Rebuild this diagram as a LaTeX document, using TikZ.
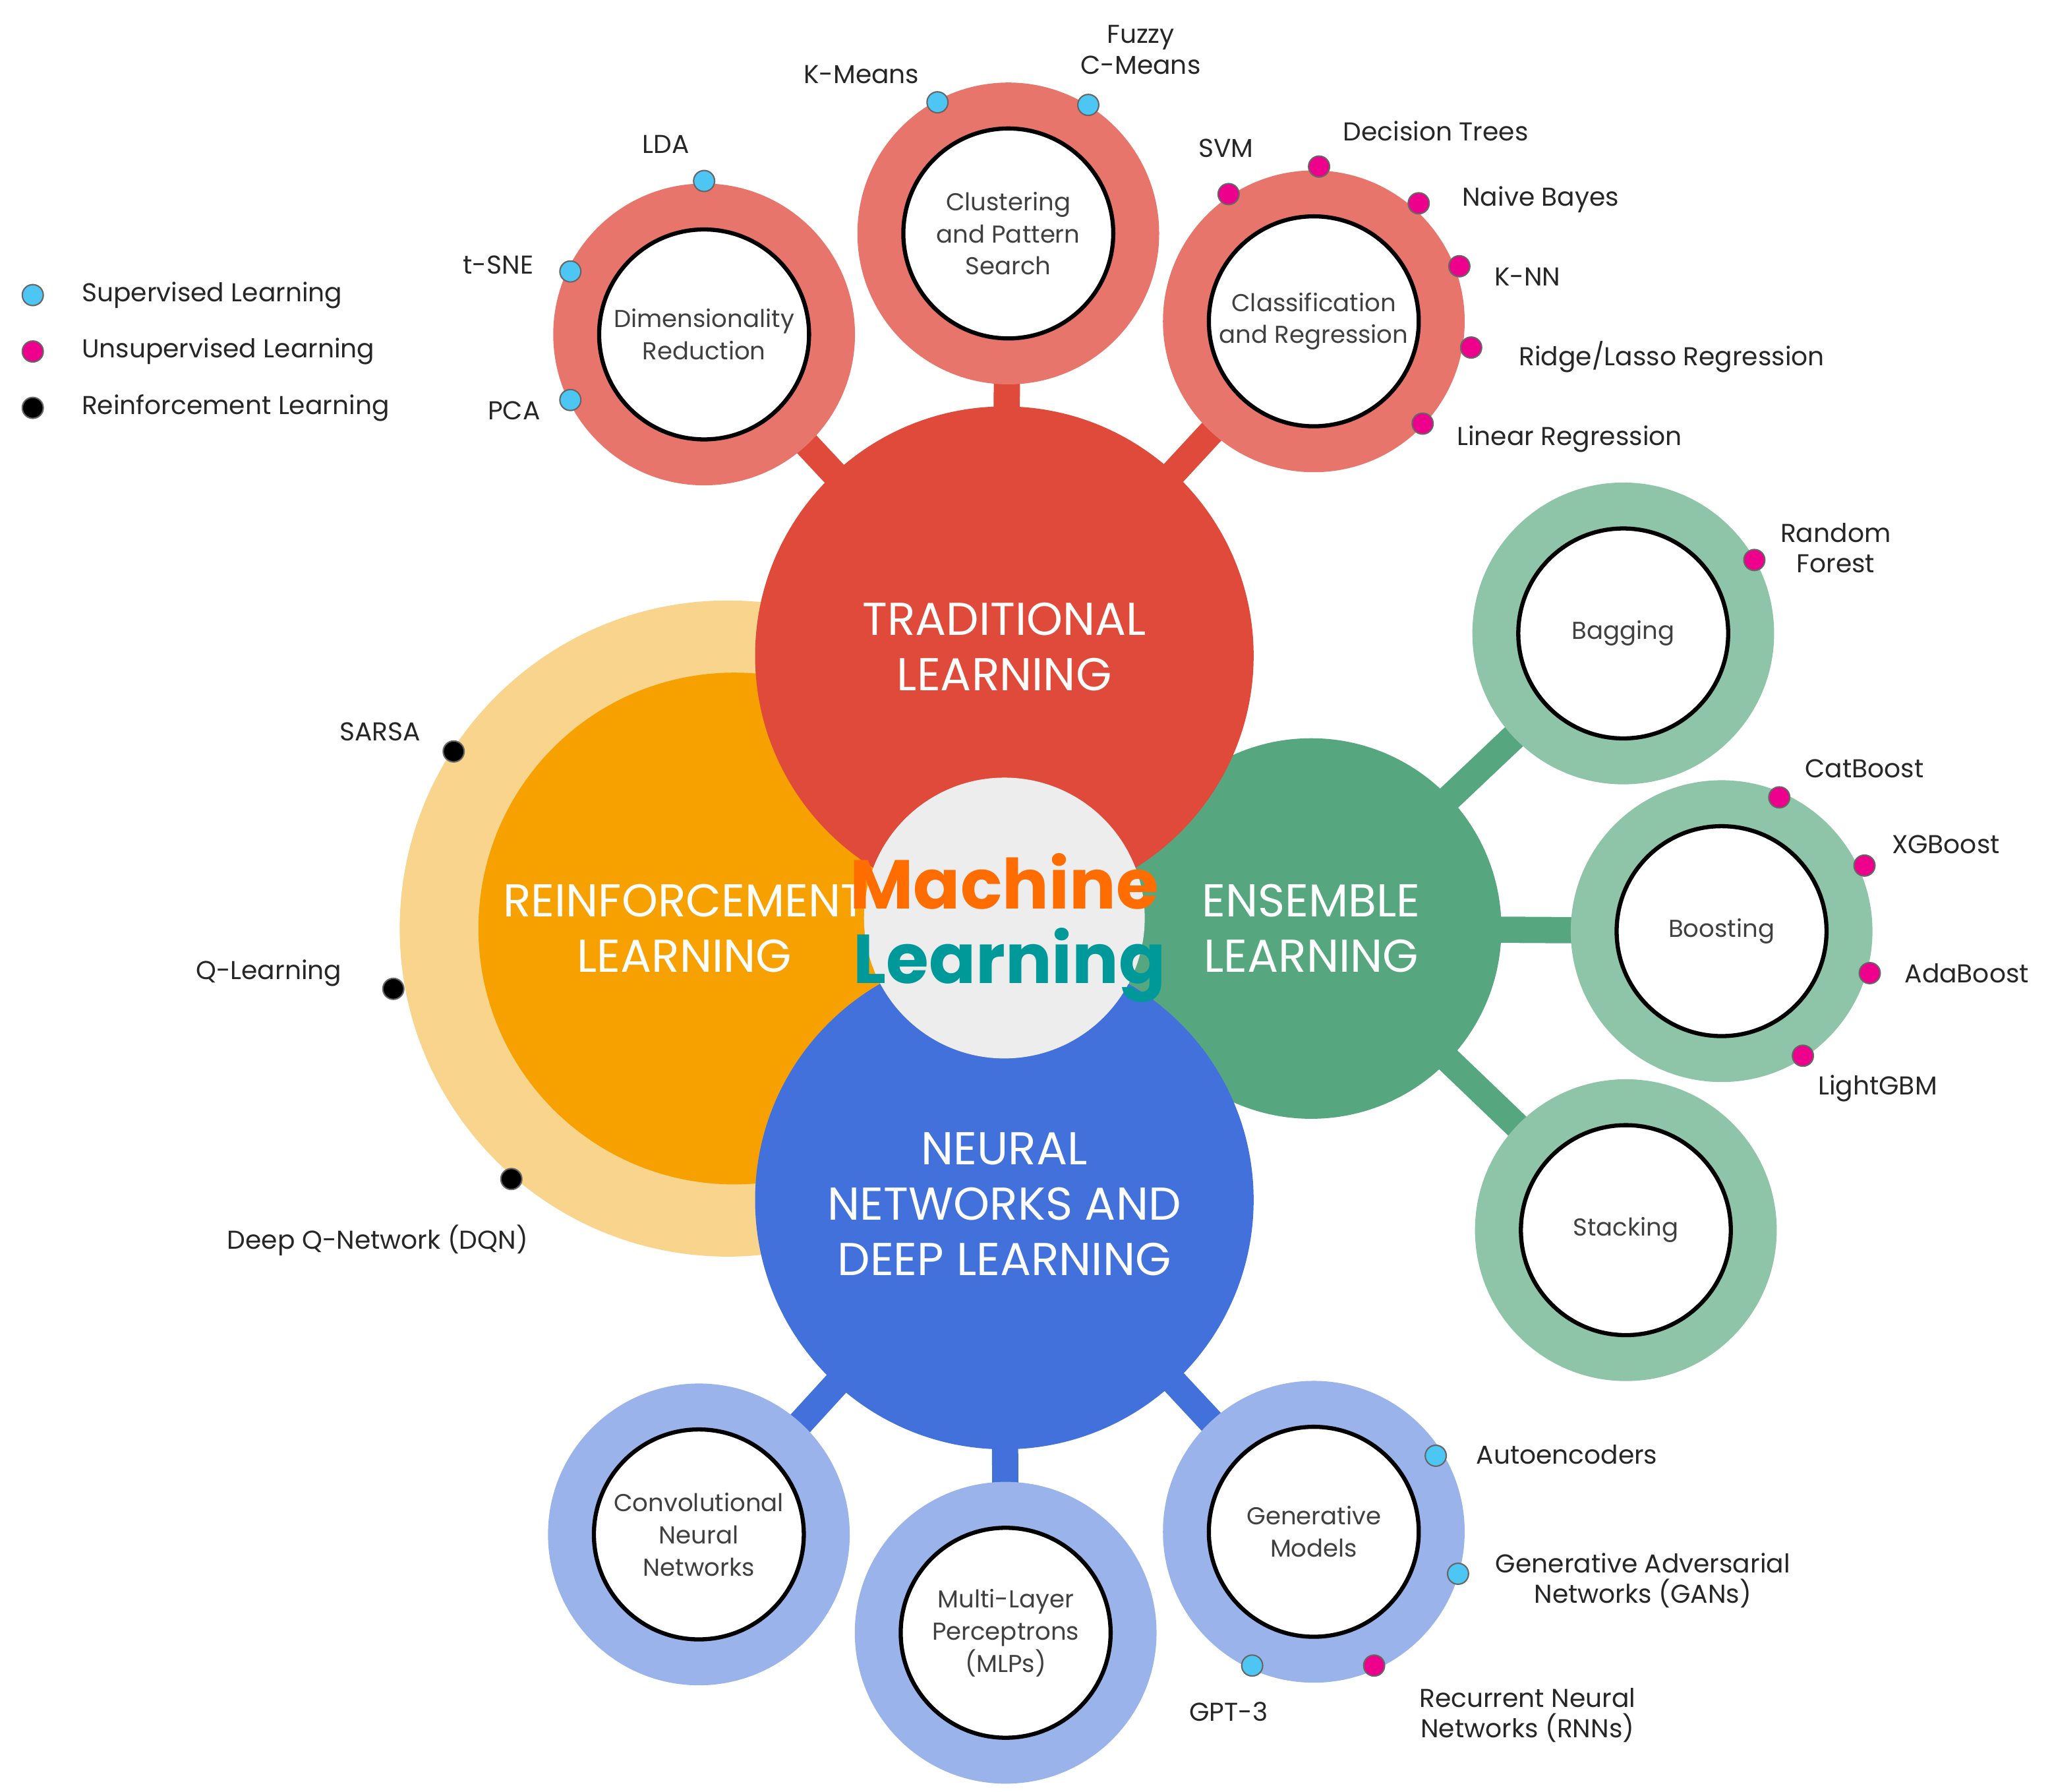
\documentclass[tikz,border=0pt]{standalone}
\usepackage{fontspec}
\setmainfont{Poppins}
\begin{document}
\begin{tikzpicture}[x=0.01cm,y=-0.01cm,
  main/.style={circle,inner sep=0,minimum size=380\pgflinewidth*0+10.8cm*0+3.8cm,text=white,font=\fontsize{10}{12}\selectfont,align=center},
  ring/.style={circle,inner sep=0,minimum size=2.3cm},
  inner/.style={circle,inner sep=0,minimum size=1.6cm,fill=white,draw=black,line width=0.9pt,align=center,font=\fontsize{5.3}{7}\selectfont,text=black!75},
  con/.style={line width=0.2cm},
  dot/.style={circle,inner sep=0,minimum size=0.16cm,draw=black!60,line width=0.3pt},
  sup/.style={dot,fill=cyan!70!white},
  uns/.style={dot,fill=magenta},
  rl/.style={dot,fill=black},
  lab/.style={font=\fontsize{5.6}{6.6}\selectfont,align=center,text=black!85}]
\definecolor{tred}{HTML}{E04A3A}\definecolor{tredl}{HTML}{E8756B}
\definecolor{egr}{HTML}{56A77F}\definecolor{egrl}{HTML}{8EC4A8}
\definecolor{nbl}{HTML}{4271DB}\definecolor{nbll}{HTML}{9AB3EA}
\definecolor{ror}{HTML}{F7A100}\definecolor{rorl}{HTML}{F8D48C}
\useasboundingbox (0,0) rectangle (1565,1366);
% reinforcement
\node[circle,fill=rorl,minimum size=5.0cm,inner sep=0] (rlo) at (555,708) {};
\node[circle,fill=ror,minimum size=3.9cm,inner sep=0] (rli) at (560,708) {};
\node[text=white,font=\fontsize{10}{12}\selectfont,align=center] (rlt) at (522,708) {REINFORCEMENT\\LEARNING};
% main positions
\coordinate (tc) at (766,500);\coordinate (ec) at (1000,708);\coordinate (nc) at (766,915);
% satellites positions
\coordinate (s1) at (537,255);\coordinate (s2) at (769,178);\coordinate (s3) at (1002,245);
\coordinate (s4) at (1238,483);\coordinate (s5) at (1313,710);\coordinate (s6) at (1240,938);
\coordinate (s7) at (533,1170);\coordinate (s8) at (767,1245);\coordinate (s9) at (1002,1168);
\draw[con,tred] (s1)--(tc) (s2)--(tc) (s3)--(tc);
\draw[con,egr] (s4)--(ec) (s5)--(ec) (s6)--(ec);
\draw[con,nbl] (s7)--(nc) (s8)--(nc) (s9)--(nc);
\foreach \s/\c in {s1/tredl,s2/tredl,s3/tredl,s4/egrl,s5/egrl,s6/egrl,s7/nbll,s8/nbll,s9/nbll}
  \node[ring,fill=\c] (r\s) at (\s) {};
\node[inner] (d1) at (s1) {Dimensionality\\Reduction};
\node[inner] (d2) at (s2) {Clustering\\and Pattern\\Search};
\node[inner] (d3) at (s3) {Classification\\and Regression};
\node[inner] (d4) at (s4) {Bagging};
\node[inner] (d5) at (s5) {Boosting};
\node[inner] (d6) at (s6) {Stacking};
\node[inner] (d7) at (s7) {Convolutional\\Neural\\Networks};
\node[inner] (d8) at (s8) {Multi-Layer\\Perceptrons\\(MLPs)};
\node[inner] (d9) at (s9) {Generative\\Models};
% main circles
\node[circle,inner sep=0,minimum size=2.9cm,fill=egr] (ens) at (ec) {};
\node[text=white,font=\fontsize{10}{12}\selectfont,align=center] at (1000,708) {ENSEMBLE\\LEARNING};
\node[circle,inner sep=0,minimum size=3.8cm,fill=tred] (trad) at (tc) {};
\node[text=white,font=\fontsize{10}{12}\selectfont,align=center] at (766,493) {TRADITIONAL\\LEARNING};
\node[circle,inner sep=0,minimum size=3.8cm,fill=nbl] (nn) at (nc) {};
\node[text=white,font=\fontsize{10}{12}\selectfont,align=center] at (766,918) {NEURAL\\NETWORKS AND\\DEEP LEARNING};
\node[circle,inner sep=0,minimum size=2.14cm,fill=black!7] (ml) at (766,700) {};
\node[font=\bfseries\fontsize{15}{18}\selectfont,text=orange!85!red] at (766,672) {Machine};
\node[font=\bfseries\fontsize{15}{18}\selectfont,text=teal!80!cyan] at (770,736) {Learning};
% dots and labels
\node[sup] (lda) at (537,138) {}; \node[lab] at (508,110) {LDA};
\node[sup] (tsne) at (435,207) {}; \node[lab] at (380,202) {t-SNE};
\node[sup] (pca) at (435,305) {}; \node[lab] at (392,313) {PCA};
\node[sup] (km) at (715,78) {}; \node[lab] at (657,57) {K-Means};
\node[sup] (fcm) at (830,80) {}; \node[lab] at (870,38) {Fuzzy\\C-Means};
\node[uns] (svm) at (937,148) {}; \node[lab] at (935,113) {SVM};
\node[uns] (dt) at (1006,127) {}; \node[lab] at (1095,100) {Decision Trees};
\node[uns] (nb) at (1082,155) {}; \node[lab] at (1175,152) {Naive Bayes};
\node[uns] (knn) at (1113,203) {}; \node[lab] at (1165,211) {K-NN};
\node[uns] (rid) at (1122,265) {}; \node[lab] at (1275,272) {Ridge/Lasso Regression};
\node[uns] (lin) at (1085,323) {}; \node[lab] at (1197,335) {Linear Regression};
\node[uns] (rf) at (1338,427) {}; \node[lab] at (1400,418) {Random\\Forest};
\node[uns] (cat) at (1357,608) {}; \node[lab] at (1422,586) {CatBoost};
\node[uns] (xgb) at (1422,660) {}; \node[lab] at (1484,644) {XGBoost};
\node[uns] (ada) at (1426,742) {}; \node[lab] at (1500,742) {AdaBoost};
\node[uns] (lgb) at (1375,805) {}; \node[lab] at (1432,830) {LightGBM};
\node[rl] (sarsa) at (346,573) {}; \node[lab] at (290,558) {SARSA};
\node[rl] (ql) at (300,754) {}; \node[lab] at (205,742) {Q-Learning};
\node[rl] (dqn) at (390,899) {}; \node[lab] at (288,946) {Deep Q-Network (DQN)};
\node[sup] (ae) at (1095,1110) {}; \node[lab] at (1195,1109) {Autoencoders};
\node[sup] (gan) at (1112,1200) {}; \node[lab] at (1253,1205) {Generative Adversarial\\Networks (GANs)};
\node[sup] (gpt) at (955,1270) {}; \node[lab] at (937,1305) {GPT-3};
\node[uns] (rnn) at (1048,1270) {}; \node[lab] at (1165,1308) {Recurrent Neural\\Networks (RNNs)};
% legend
\node[sup] (l1) at (25,225) {}; \node[lab,anchor=west] at (50,225) {Supervised Learning};
\node[uns] (l2) at (25,268) {}; \node[lab,anchor=west] at (50,268) {Unsupervised Learning};
\node[rl] (l3) at (25,311) {}; \node[lab,anchor=west] at (50,311) {Reinforcement Learning};
\end{tikzpicture}
\end{document}
